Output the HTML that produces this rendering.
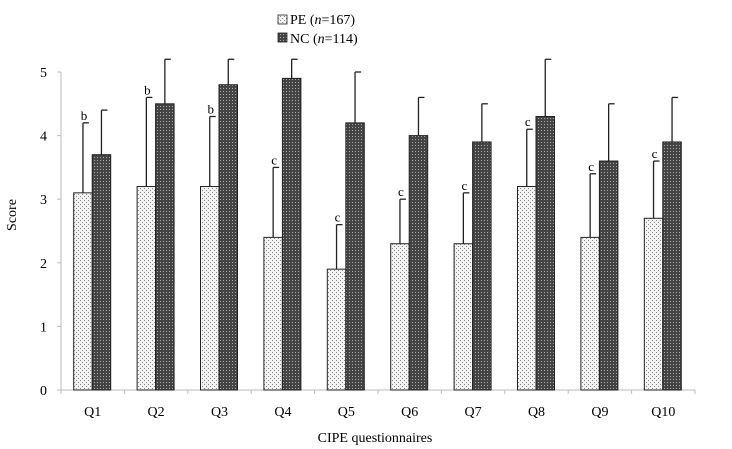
<!DOCTYPE html>
<html><head><meta charset="utf-8"><style>
body{margin:0;background:#fff}
svg{display:block;font-family:"Liberation Serif",serif}
</style></head><body>
<svg id="chart" width="732" height="449" viewBox="0 0 732 449">
<defs>
<pattern id="pe" width="4" height="4" patternUnits="userSpaceOnUse"><rect width="4" height="4" fill="#f2f2f2"/><rect x="0" y="0" width="1" height="1" fill="#888"/><rect x="2" y="2" width="1" height="1" fill="#888"/></pattern>
<pattern id="nc" width="3" height="3" patternUnits="userSpaceOnUse"><rect width="3" height="3" fill="#444"/><rect x="1" y="1" width="1" height="1" fill="#aaa"/></pattern>
</defs>
<g id="axes"></g><g id="bars"></g>
<g>
<rect x="278" y="15" width="9" height="9" fill="url(#pe)" stroke="#222" stroke-width="0.8"/>
<text x="290" y="24" font-size="14">PE (<tspan font-style="italic">n</tspan>=167)</text>
<rect x="278" y="33" width="9" height="9" fill="url(#nc)" stroke="#222" stroke-width="0.8"/>
<text x="290" y="43" font-size="14">NC (<tspan font-style="italic">n</tspan>=114)</text>
</g>
<text x="16" y="215" font-size="14" text-anchor="middle" transform="rotate(-90 16 215)">Score</text>
<text x="375" y="442" font-size="14" text-anchor="middle">CIPE questionnaires</text>
</svg>
<script>
const categories=["Q1","Q2","Q3","Q4","Q5","Q6","Q7","Q8","Q9","Q10"];
const peValues=[3.1,3.2,3.2,2.4,1.9,2.3,2.3,3.2,2.4,2.7];
const ncValues=[3.7,4.5,4.8,4.9,4.2,4.0,3.9,4.3,3.6,3.9];
const peErrTop=[4.2,4.6,4.3,3.5,2.6,3.0,3.1,4.1,3.4,3.6];
const ncErrTop=[4.4,5.2,5.2,5.2,5.0,4.6,4.5,5.2,4.5,4.6];
const sigLabels=["b","b","b","c","c","c","c","c","c","c"];
const yTicks=[0,1,2,3,4,5];
const NS="http://www.w3.org/2000/svg";
const x0=61,x1=695,yb=390,yt=72,ymax=5;
const gw=(x1-x0)/categories.length,bw=18.5,off=12.7;
const y=v=>yb-(v/ymax)*(yb-yt);
const gx=i=>x0+i*gw;
function mk(t,a,p){const e=document.createElementNS(NS,t);for(const k in a)e.setAttribute(k,a[k]);p.appendChild(e);return e;}
const ax=document.getElementById('axes'),bars=document.getElementById('bars');
const yl=mk('line',{x1:x0,y1:y(5),x2:x0,y2:yb,stroke:'#bbb'},ax);


const xl=mk('line',{x1:x0,y1:yb,x2:x1,y2:yb,stroke:'#bbb'},ax);


yTicks.forEach(v=>{
 mk('line',{x1:x0-4,y1:y(v),x2:x0,y2:y(v),stroke:'#bbb'},ax);
 const t=mk('text',{x:x0-14,y:y(v)+5,'font-size':14,'text-anchor':'end'},ax);t.textContent=v;
 
 
});
for(let i=0;i<=categories.length;i++)mk('line',{x1:gx(i),y1:yb,x2:gx(i),y2:yb+4,stroke:'#bbb'},ax);
categories.forEach((c,i)=>{
 const t=mk('text',{x:gx(i)+gw/2,y:yb+26,'font-size':14,'text-anchor':'middle'},ax);t.textContent=c;
 
 
 const px=gx(i)+off,nx=px+bw;
 [[px,peValues[i],peErrTop[i],'pe'],[nx,ncValues[i],ncErrTop[i],'nc']].forEach(([bx,v,e,s])=>{
  const cx=bx+bw/2;
  const el=mk('line',{x1:cx,y1:y(v),x2:cx,y2:y(e),stroke:'#222','stroke-width':1.3},bars);
  
  
  mk('line',{x1:cx,y1:y(e),x2:cx+6,y2:y(e),stroke:'#222','stroke-width':1.3},bars);
  const r=mk('rect',{x:bx,y:y(v),width:bw,height:yb-y(v),fill:'url(#'+s+')',stroke:'#222','stroke-width':1},bars);
  
  
 });
 const l=mk('text',{x:px+bw/2+1,y:y(peErrTop[i])-3,'font-size':13,'text-anchor':'middle'},bars);l.textContent=sigLabels[i];
 
 
});
</script>
</body></html>
